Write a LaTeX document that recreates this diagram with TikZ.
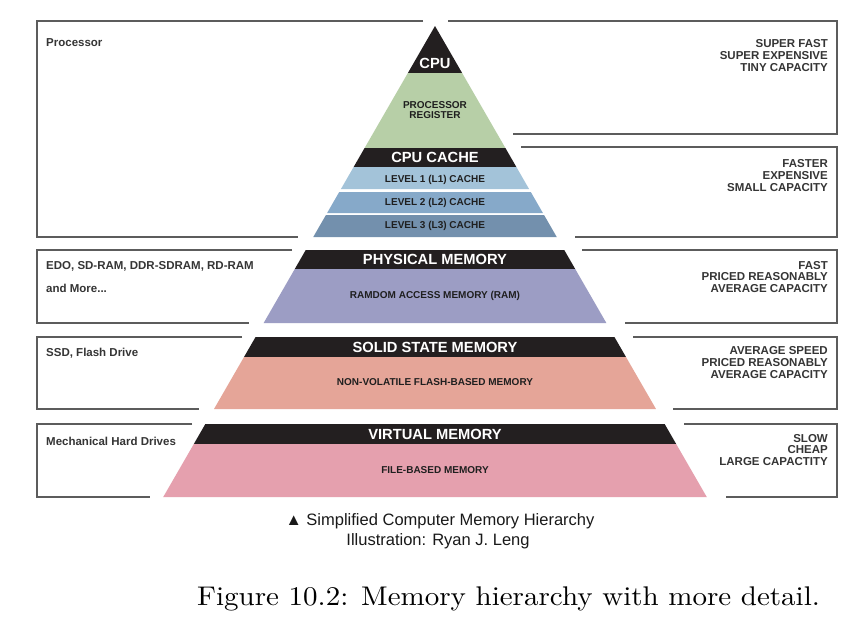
\documentclass[tikz,border=0pt]{standalone}
\usepackage{fontspec}
\usepackage{tikz}
\usetikzlibrary{positioning}
\newfontfamily\arialfont{Liberation Sans}
\definecolor{bandBlack}{HTML}{231F20}
\definecolor{regGreen}{HTML}{B7CFA7}
\definecolor{levelOne}{HTML}{A3C3D9}
\definecolor{levelTwo}{HTML}{86A9C9}
\definecolor{levelThree}{HTML}{7390AD}
\definecolor{ramPurple}{HTML}{9C9DC4}
\definecolor{ssdSalmon}{HTML}{E5A598}
\definecolor{hddPink}{HTML}{E5A0AE}
\definecolor{frameGray}{HTML}{5C5C5C}
\definecolor{sideGray}{HTML}{353535}
\tikzstyle{tFrame} = [draw=frameGray, line width=1.4pt]
\tikzstyle{tHead} = [text=white, inner sep=0pt, font=\arialfont\bfseries\fontsize{14.7}{16}\selectfont]
\tikzstyle{tInner} = [text=black!88, inner sep=0pt, align=center, font=\arialfont\bfseries\fontsize{10}{10.5}\selectfont]
\tikzstyle{tSide} = [text=sideGray, inner sep=0pt, anchor=west, font=\arialfont\bfseries\fontsize{11.5}{12}\selectfont]
\tikzstyle{tRight} = [text=sideGray, inner sep=0pt, anchor=east, align=right, font=\arialfont\bfseries\fontsize{11.5}{11.8}\selectfont]
\tikzstyle{tCaption} = [text=black!90, inner sep=0pt, font=\arialfont\fontsize{16.5}{18}\selectfont]
\tikzstyle{tFigure} = [text=black, inner sep=0pt, anchor=base west, font=\fontsize{10}{12}\selectfont]

\begin{document}
\begin{tikzpicture}[x=1pt, y=-1pt]
        \fill[white] (0,0) rectangle (855,635);
        \useasboundingbox (0,0) rectangle (855,635);
        % pyramid layers: top, bottom, colour
        \foreach \yA/\yB/\col in {26/73/bandBlack, 73/148/regGreen, 148/167/bandBlack,
                167/189/levelOne, 192/213/levelTwo, 215/237/levelThree,
                250/269/bandBlack, 269/323/ramPurple, 337/357/bandBlack,
                357/409/ssdSalmon, 424/444/bandBlack, 444/497/hddPink}
            \fill[\col] ({435-0.577*(\yA-26)},\yA) -- ({435+0.577*(\yA-26)},\yA)
                -- ({435+0.577*(\yB-26)},\yB) -- ({435-0.577*(\yB-26)},\yB) -- cycle;
        % frames
        \draw[tFrame] (423,21) -- (37,21) -- (37,237) -- (298,237);
        \draw[tFrame] (448,21) -- (837,21) -- (837,134) -- (513,134);
        \draw[tFrame] (521,147) -- (837,147) -- (837,237) -- (575,237);
        \draw[tFrame] (292,250) -- (37,250) -- (37,323) -- (249,323);
        \draw[tFrame] (582,250) -- (837,250) -- (837,323) -- (625,323);
        \draw[tFrame] (242,337) -- (37,337) -- (37,409) -- (199,409);
        \draw[tFrame] (633,337) -- (837,337) -- (837,409) -- (673,409);
        \draw[tFrame] (192,424) -- (37,424) -- (37,497) -- (150,497);
        \draw[tFrame] (684,424) -- (837,424) -- (837,497) -- (726,497);
        % pyramid labels
        \node[tHead] (Cpu) at (435,63) {CPU};
        \node[tInner] (Register) at (435,110) {PROCESSOR\\REGISTER};
        \node[tHead] (Cache) at (435,157) {CPU CACHE};
        \node[tInner] (LOne) at (435,179.5) {LEVEL 1 (L1) CACHE};
        \node[tInner] (LTwo) at (435,202.5) {LEVEL 2 (L2) CACHE};
        \node[tInner] (LThree) at (435,226) {LEVEL 3 (L3) CACHE};
        \node[tHead] (Physical) at (435,259.5) {PHYSICAL MEMORY};
        \node[tInner] (Ram) at (435,296) {RAMDOM ACCESS MEMORY (RAM)};
        \node[tHead] (Solid) at (435,347) {SOLID STATE MEMORY};
        \node[tInner] (Flash) at (435,382) {NON-VOLATILE FLASH-BASED MEMORY};
        \node[tHead] (Virtual) at (435,434.5) {VIRTUAL MEMORY};
        \node[tInner] (FileMem) at (435,470) {FILE-BASED MEMORY};
        % left texts
        \node[tSide] (Proc) at (46,43) {Processor};
        \node[tSide] (Edo) at (46,266) {EDO, SD-RAM, DDR-SDRAM, RD-RAM};
        \node[tSide] (More) at (46,288) {and More...};
        \node[tSide] (SsdFlash) at (46,353) {SSD, Flash Drive};
        \node[tSide] (Hard) at (46,441) {Mechanical Hard Drives};
        % right texts
        \node[tRight] (SpeedA) at (828,55.5) {SUPER FAST\\SUPER EXPENSIVE\\TINY CAPACITY};
        \node[tRight] (SpeedB) at (828,175.5) {FASTER\\EXPENSIVE\\SMALL CAPACITY};
        \node[tRight] (SpeedC) at (828,277) {FAST\\PRICED REASONABLY\\AVERAGE CAPACITY};
        \node[tRight] (SpeedD) at (828,362.5) {AVERAGE SPEED\\PRICED REASONABLY\\AVERAGE CAPACITY};
        \node[tRight] (SpeedE) at (828,450) {SLOW\\CHEAP\\LARGE CAPACTITY};
        % captions
        \node[tCaption] (Title) at (440,521) {▲ Simplified Computer Memory Hierarchy};
        \node[tCaption] (Credit) at (438,541.5) {Illustration: Ryan J. Leng};
        \node[tFigure] (Fig) at (197,605) {\scalebox{2.9}[2.7]{Figure 10.2: Memory hierarchy with more detail.}};
\end{tikzpicture}
\end{document}
